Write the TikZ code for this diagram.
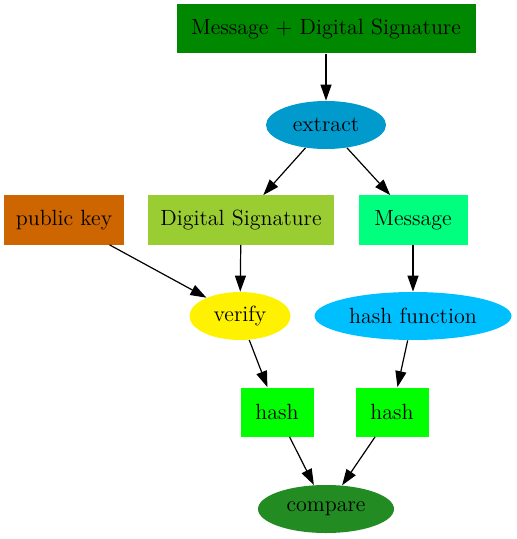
\documentclass[tikz,border=0pt]{standalone}
\usepackage{tikz}
\usetikzlibrary{
    positioning,
    arrows.meta,
    shapes.geometric
}
\definecolor{SigGreen}{RGB}{0,136,0}
\definecolor{ExtractBlue}{RGB}{0,154,205}
\definecolor{KeyOrange}{RGB}{205,102,0}
\definecolor{SigLime}{RGB}{154,205,50}
\definecolor{MsgSpring}{RGB}{0,255,127}
\definecolor{HashSky}{RGB}{0,191,255}
\definecolor{HashGreen}{RGB}{0,255,0}
\definecolor{CmpForest}{RGB}{34,139,34}

\begin{document}
\begin{tikzpicture}[
                    x=0.5pt, y=-0.5pt,
                    font=\fontsize{11}{13}\selectfont,
                    every node/.style={inner sep=1pt},
                    box/.style={rectangle, minimum height=24.5pt},
                    oval/.style={ellipse, minimum height=24pt},
                    flow/.style={-{Triangle[length=8pt,width=5.5pt]}, semithick},
                ]
                  \useasboundingbox (0,0) rectangle (516,539);

                  % Top: signed message
                  \node[box, fill=SigGreen, minimum width=149.5pt] (signed) at (326,29) {Message + Digital Signature};
                  \node[oval, fill=ExtractBlue, minimum width=60pt] (extract) at (326,125) {extract};

                  % Split parts and key
                  \node[box, fill=KeyOrange, minimum width=60pt] (pubkey) at (64,220) {public key};
                  \node[box, fill=SigLime, minimum width=93pt] (digsig) at (241,220) {Digital Signature};
                  \node[box, fill=MsgSpring, minimum width=54.5pt] (message) at (413,220) {Message};

                  % Processing
                  \node[oval, fill=yellow, minimum width=50.5pt] (verify) at (240,316) {verify};
                  \node[oval, fill=HashSky, minimum width=98.5pt] (hashfn) at (413,316) {hash function};

                  % Hash values
                  \node[box, fill=HashGreen, minimum width=36.5pt] (hashA) at (277,412) {hash};
                  \node[box, fill=HashGreen, minimum width=36.5pt] (hashB) at (392,412) {hash};

                  % Result
                  \node[oval, fill=CmpForest, minimum width=68pt] (compare) at (326,509) {compare};

                  % Edges
                  \draw[flow] (signed) -- (extract);
                  \draw[flow] (extract) -- (digsig);
                  \draw[flow] (extract) -- (message);
                  \draw[flow] (pubkey) -- (verify);
                  \draw[flow] (digsig) -- (verify);
                  \draw[flow] (message) -- (hashfn);
                  \draw[flow] (verify) -- (hashA);
                  \draw[flow] (hashfn) -- (hashB);
                  \draw[flow] (hashA) -- (compare);
                  \draw[flow] (hashB) -- (compare);
                \end{tikzpicture}
\end{document}
